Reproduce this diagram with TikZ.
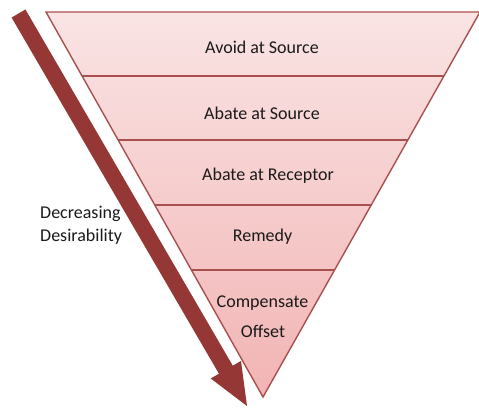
\documentclass[tikz,border=0pt]{standalone}
\usepackage{fontspec}
\setmainfont{Carlito}
\usetikzlibrary{calc}
\definecolor{arrowred}{HTML}{953735}
\definecolor{edgered}{HTML}{A8504E}
\definecolor{bandtop}{HTML}{FAE4E4}
\definecolor{bandbot}{HTML}{F2B4B4}
\definecolor{ink}{HTML}{1A1A1A}
\tikzset{
  tier/.style={font=\fontsize{18}{21}\selectfont, text=ink, inner sep=0pt, align=center},
  sidelabel/.style={font=\fontsize{18}{23}\selectfont, text=ink, inner sep=0pt, align=left, anchor=west},
  divider/.style={draw=edgered, line width=2pt},
  outline/.style={draw=edgered, line width=1.4pt, line join=miter},
}
\begin{document}
\begin{tikzpicture}[x=1pt,y=-1pt]
\useasboundingbox (0,0) rectangle (479,416);

% big downward arrow on the left
\coordinate (as) at (18.5,13.5);
\coordinate (at) at (247,406);
\coordinate (ab) at ($(at)!42pt!(as)$);
\fill[arrowred]
  ($(as)!8pt!90:(at)$) -- ($(ab)!8pt!-90:(as)$) -- ($(ab)!17.5pt!-90:(as)$) --
  (at) -- ($(ab)!17.5pt!90:(as)$) -- ($(ab)!8pt!90:(as)$) -- ($(as)!8pt!-90:(at)$) -- cycle;

% inverted triangle with graded fill
\coordinate (tl) at (46,12);
\coordinate (tr) at (480,12);
\coordinate (apex) at (263,397);
\shade[top color=bandtop, bottom color=bandbot] (tl) -- (tr) -- (apex) -- cycle;

% tier dividers
\foreach \yy/\nm in {76/d1,139.5/d2,204.5/d3,269.5/d4}{
  \coordinate (\nm l) at ($(tl)!{(\yy-12)/385}!(apex)$);
  \coordinate (\nm r) at ($(tr)!{(\yy-12)/385}!(apex)$);
  \draw[divider] (\nm l) -- (\nm r);
}
\draw[outline] (tl) -- (tr) -- (apex) -- cycle;

% tier labels
\node[tier] (t1) at (262,47) {Avoid at Source};
\node[tier] (t2) at (262,113.5) {Abate at Source};
\node[tier] (t3) at (268,176) {Abate at Receptor};
\node[tier] (t4) at (262.5,237) {Remedy};
\node[tier] (t5a) at (262.5,303) {Compensate};
\node[tier] (t5b) at (263,331) {Offset};

% side label
\node[sidelabel] (side) at (40,225.5) {Decreasing\\Desirability};
\end{tikzpicture}
\end{document}
